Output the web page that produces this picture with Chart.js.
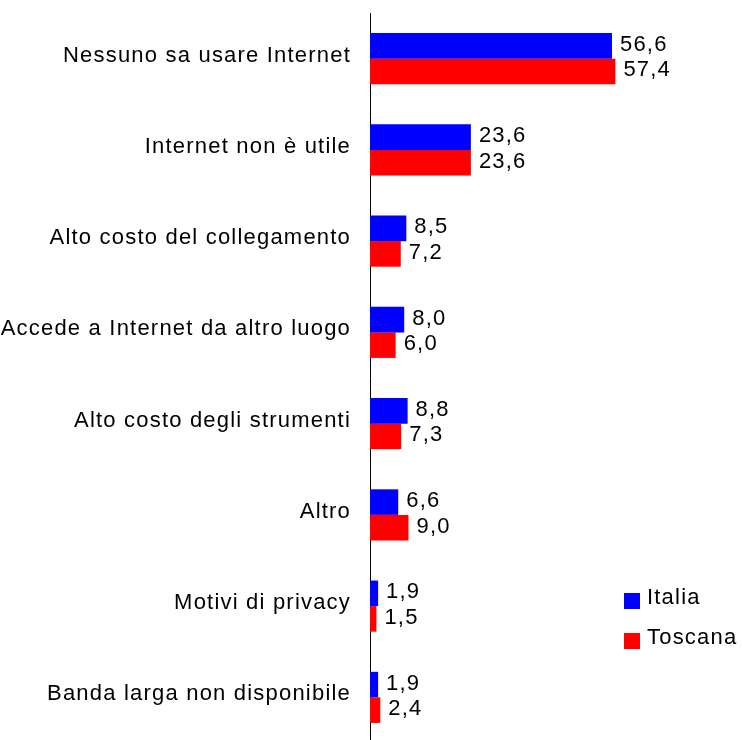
<!DOCTYPE html>
<html>
<head>
<meta charset="utf-8">
<script src="https://cdn.jsdelivr.net/npm/chart.js@4/dist/chart.umd.min.js"></script>
<style>
  html, body { margin: 0; padding: 0; background: #fff; overflow: hidden; }
  #wrap { width: 742px; height: 746px; position: relative; }
</style>
</head>
<body>
<div id="wrap"><canvas id="chart"></canvas></div>
<script>
// Motivi per cui le famiglie non hanno accesso a Internet (%)
const categories = [
  'Nessuno sa usare Internet',
  'Internet non è utile',
  'Alto costo del collegamento',
  'Accede a Internet da altro luogo',
  'Alto costo degli strumenti',
  'Altro',
  'Motivi di privacy',
  'Banda larga non disponibile'
];
const italia = [56.6, 23.6, 8.5, 8.0, 8.8, 6.6, 1.9, 1.9];
const toscana = [57.4, 23.6, 7.2, 6.0, 7.3, 9.0, 1.5, 2.4];
const seriesNames = ['Italia', 'Toscana'];
const seriesColors = ['#0000ff', '#ff0000'];

const FONT = '"Liberation Sans", Arial, sans-serif';
const SPACING = '1.2px';

// slightly spread lettering for every text on the canvas
const letterSpread = {
  id: 'letterSpread',
  beforeDraw(chart) {
    chart.ctx.letterSpacing = SPACING;
  }
};

// value labels next to each bar, comma decimal
const valueLabels = {
  id: 'valueLabels',
  afterDatasetsDraw(chart) {
    const ctx = chart.ctx;
    ctx.save();
    ctx.letterSpacing = SPACING;
    ctx.font = '22px ' + FONT;
    ctx.fillStyle = '#000';
    ctx.textAlign = 'left';
    ctx.textBaseline = 'middle';
    chart.data.datasets.forEach((ds, i) => {
      chart.getDatasetMeta(i).data.forEach((bar, j) => {
        const txt = ds.data[j].toFixed(1).replace('.', ',');
        ctx.fillText(txt, bar.x + 8, bar.y - 1);
      });
    });
    ctx.restore();
  }
};

// legend box at the lower right
const sideLegend = {
  id: 'sideLegend',
  afterDraw(chart) {
    const ctx = chart.ctx;
    ctx.save();
    ctx.letterSpacing = SPACING;
    ctx.font = '22px ' + FONT;
    ctx.textBaseline = 'middle';
    seriesNames.forEach((name, i) => {
      const y = 593 + i * 40;
      ctx.fillStyle = seriesColors[i];
      ctx.fillRect(624, y, 16, 16);
      ctx.fillStyle = '#000';
      ctx.fillText(name, 647, y + 5);
    });
    ctx.restore();
  }
};

new Chart(document.getElementById('chart'), {
  type: 'bar',
  data: {
    labels: categories,
    datasets: [
      { label: seriesNames[0], data: italia, backgroundColor: seriesColors[0] },
      { label: seriesNames[1], data: toscana, backgroundColor: seriesColors[1] }
    ]
  },
  options: {
    indexAxis: 'y',
    responsive: true,
    maintainAspectRatio: false,
    animation: false,
    categoryPercentage: 0.56,
    barPercentage: 1,
    layout: { padding: { top: 13, bottom: 3, right: 30, left: 0 } },
    plugins: {
      legend: { display: false },
      tooltip: { enabled: false }
    },
    scales: {
      x: {
        display: false,
        min: 0,
        max: 80
      },
      y: {
        grid: { display: false, drawTicks: false },
        border: { display: true, color: '#000', width: 1 },
        ticks: {
          color: '#000',
          padding: 19,
          labelOffset: -3,
          font: { family: FONT, size: 22 }
        },
        afterFit: function(scale) {
          scale.width = 370;
          scale.paddingTop = 0;
          scale.paddingBottom = 0;
        }
      }
    }
  },
  plugins: [letterSpread, valueLabels, sideLegend]
});
</script>
</body>
</html>
